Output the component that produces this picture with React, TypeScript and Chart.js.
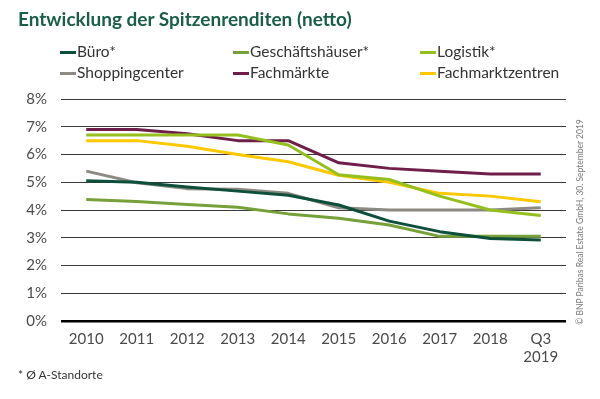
import React, { useEffect, useRef } from "react";
import { Chart, registerables } from "chart.js";

Chart.register(...registerables);

const categories: (string | string[])[] = ["2010", "2011", "2012", "2013", "2014", "2015", "2016", "2017", "2018", ["Q3", "2019"]];

const bueroValues = [5.05, 5.0, 4.83, 4.68, 4.53, 4.18, 3.6, 3.22, 2.97, 2.92];
const geschaeftshaeuserValues = [4.38, 4.31, 4.2, 4.1, 3.86, 3.7, 3.46, 3.05, 3.05, 3.05];
const logistikValues = [6.7, 6.7, 6.7, 6.7, 6.34, 5.27, 5.1, 4.5, 4.0, 3.8];
const shoppingcenterValues = [5.4, 4.98, 4.77, 4.75, 4.6, 4.08, 4.0, 4.0, 4.0, 4.08];
const fachmaerkteValues = [6.9, 6.9, 6.75, 6.5, 6.5, 5.7, 5.5, 5.4, 5.3, 5.3];
const fachmarktzentrenValues = [6.5, 6.5, 6.3, 6.0, 5.74, 5.25, 5.0, 4.6, 4.5, 4.3];

const yTicks = [0, 1, 2, 3, 4, 5, 6, 7, 8];

const seriesNames = ["Büro*", "Geschäftshäuser*", "Logistik*", "Shoppingcenter", "Fachmärkte", "Fachmarktzentren"];
const seriesColors = ["#0d4f3a", "#76a03a", "#94bf1e", "#8c8a82", "#6e1e48", "#fcc800"];
const seriesValues = [bueroValues, geschaeftshaeuserValues, logistikValues, shoppingcenterValues, fachmaerkteValues, fachmarktzentrenValues];

const FONT = "Lato, 'Open Sans', sans-serif";

export default function App() {
  const ref = useRef<HTMLCanvasElement | null>(null);

  useEffect(() => {
    if (!ref.current) return;
    const chart = new Chart(ref.current, {
      type: "line",
      data: {
        labels: categories as any,
        datasets: seriesNames.map((name, i) => ({
          label: name,
          data: seriesValues[i],
          borderColor: seriesColors[i],
          backgroundColor: seriesColors[i],
          borderWidth: 3,
          pointRadius: 0,
          tension: 0,
          fill: false,
          borderJoinStyle: "round" as const,
        })),
      },
      options: {
        responsive: false,
        animation: false,
        layout: { padding: { left: 0, top: 99, right: 34, bottom: 28 } },
        plugins: { legend: { display: false }, tooltip: { enabled: false } },
        scales: {
          x: {
            type: "category",
            offset: true,
            grid: { display: false, drawTicks: false },
            border: { display: false },
            ticks: { color: "#4a4a4a", font: { family: FONT, size: 15 }, padding: 9, maxRotation: 0, autoSkip: false },
            afterFit: (s: any) => { s.height = 50; },
          },
          y: {
            min: 0,
            max: 8,
            afterBuildTicks: (s: any) => { s.ticks = yTicks.map((v) => ({ value: v })); },
            grid: {
              drawTicks: false,
              color: (c: any) => (c.tick && c.tick.value === 0 ? "#000" : "#3a3a3a"),
              lineWidth: (c: any) => (c.tick && c.tick.value === 0 ? 2.5 : 1),
            },
            border: { display: false },
            ticks: { color: "#4a4a4a", font: { family: FONT, size: 15 }, padding: 14, callback: (v: any) => v + "%" },
            afterFit: (s: any) => { s.width = 61; },
          },
        },
      },
    });
    return () => chart.destroy();
  }, []);

  const legendCols = [60, 233, 420];
  const legendRows = [51, 72];

  return (
    <div style={{ position: "fixed", left: 0, top: 0, width: 600, height: 399, background: "#fff", fontFamily: FONT, overflow: "hidden" }}>
      <canvas ref={ref} width={600} height={399} style={{ position: "absolute", left: 0, top: 0, width: 600, height: 399 }} />
      <div style={{ position: "absolute", left: 18, top: 7, fontSize: 19, fontWeight: 700, color: "#1a5e46", whiteSpace: "nowrap" }}>
        Entwicklung der Spitzenrenditen (netto)
      </div>
      {seriesNames.map((name, i) => {
        const col = i % 3;
        const row = Math.floor(i / 3);
        return (
          <div key={name} style={{ position: "absolute", left: legendCols[col], top: legendRows[row] - 10, height: 20, display: "flex", alignItems: "center", whiteSpace: "nowrap", fontSize: 15.5, color: "#333" }}>
            <span style={{ display: "inline-block", width: 16, height: 3, background: seriesColors[i], marginRight: 1, marginTop: 3 }} />
            <span>{name}</span>
          </div>
        );
      })}
      <div style={{ position: "absolute", left: 18, top: 367, fontSize: 12, color: "#333", whiteSpace: "nowrap" }}>* Ø A-Standorte</div>
      <div style={{ position: "absolute", left: 580 - 110, top: 222 - 6, width: 220, height: 12, lineHeight: "12px", textAlign: "center", fontSize: 8.5, color: "#777", transform: "rotate(-90deg)", transformOrigin: "center", whiteSpace: "nowrap" }}>
        © BNP Paribas Real Estate GmbH, 30. September 2019
      </div>
    </div>
  );
}
